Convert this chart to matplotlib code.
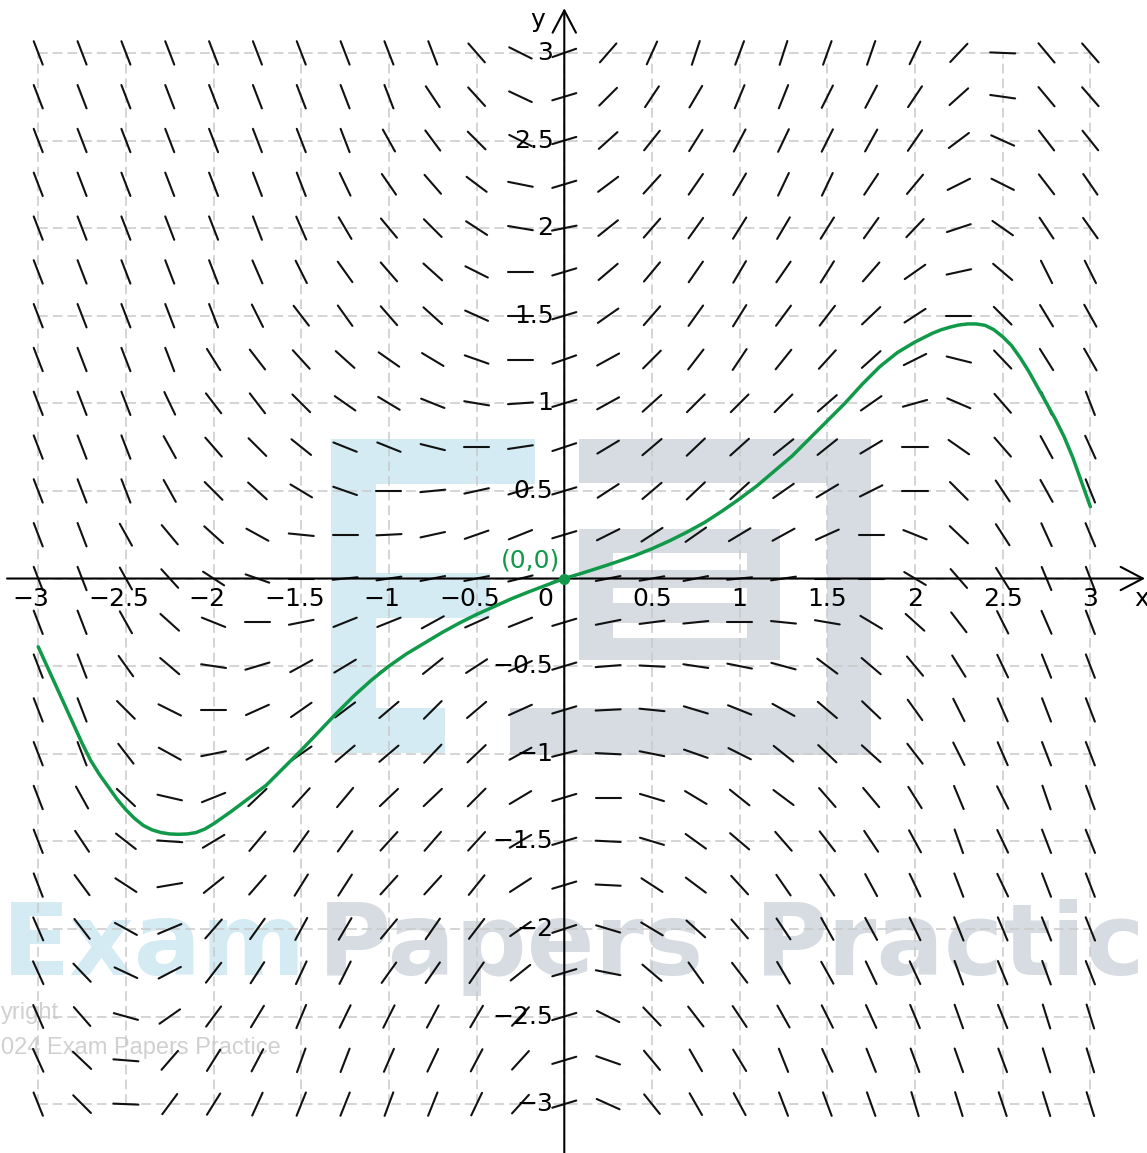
import numpy as np
import matplotlib
matplotlib.use("Agg")
import matplotlib.pyplot as plt
from matplotlib.collections import LineCollection
from matplotlib.patches import Rectangle

# ---------------- data ----------------
grid_x = [-3.0, -2.75, -2.5, -2.25, -2.0, -1.75, -1.5, -1.25, -1.0, -0.75, -0.5, -0.25,
          0.0, 0.25, 0.5, 0.75, 1.0, 1.25, 1.5, 1.75, 2.0, 2.25, 2.5, 2.75, 3.0]
grid_y = [3.0, 2.75, 2.5, 2.25, 2.0, 1.75, 1.5, 1.25, 1.0, 0.75, 0.5, 0.25,
          0.0, -0.25, -0.5, -0.75, -1.0, -1.25, -1.5, -1.75, -2.0, -2.25, -2.5, -2.75, -3.0]

# displayed slope of each short segment, rows from y = 3 (top) to y = -3 (bottom)
slopes = [
    [-2.6, -2.6, -2.6, -2.6, -2.6, -2.6, -2.6, -2.6, -2.6, -2.6, -1.15, -0.5, 0.35, 1.15, 2.2, 3.0, 2.7, 3.1, 2.8, 2.9, 2.1, 1.06, -0.04, -1.2, -1.15],
    [-2.6, -2.6, -2.6, -2.6, -2.6, -2.6, -2.6, -2.6, -2.6, -1.5, -1.1, -0.47, 0.3, 1.0, 1.5, 1.7, 2.4, 2.5, 2.0, 1.9, 1.5, 0.9, -0.14, -1.2, -1.15],
    [-2.6, -2.6, -2.6, -2.6, -2.6, -2.6, -2.6, -2.6, -1.8, -1.35, -1.0, -0.5, 0.3, 0.9, 1.25, 1.6, 1.9, 2.1, 2.0, 1.8, 1.45, 0.75, -0.45, -1.3, -1.25],
    [-2.6, -2.6, -2.6, -2.6, -2.6, -2.6, -2.6, -2.1, -1.45, -1.15, -0.75, -0.2, 0.3, 0.75, 1.1, 1.45, 1.7, 2.1, 2.1, 1.5, 1.2, 0.5, -0.5, -1.3, -1.45],
    [-2.6, -2.6, -2.6, -2.6, -2.6, -2.6, -2.3, -1.7, -1.2, -1.0, -0.65, -0.17, 0.2, 0.8, 1.15, 1.4, 1.6, 1.7, 1.6, 1.4, 1.05, 0.33, -0.7, -1.5, -1.4],
    [-2.6, -2.6, -2.6, -2.6, -2.6, -2.3, -2.0, -1.4, -1.15, -0.9, -0.5, 0.0, 0.3, 0.85, 1.2, 1.45, 1.7, 1.45, 1.6, 1.15, 0.7, 0.22, -0.85, -2.0, -2.0],
    [-2.6, -2.6, -2.6, -2.6, -2.6, -2.0, -1.3, -1.4, -1.15, -0.9, -0.45, 0.0, 0.3, 0.7, 1.15, 1.4, 1.6, 1.35, 1.3, 0.95, 0.65, 0.0, -1.0, -1.65, -1.8],
    [-2.6, -2.6, -2.6, -2.6, -1.6, -1.3, -1.1, -0.9, -0.7, -0.6, -0.35, 0.0, 0.35, 0.55, 1.0, 1.3, 1.5, 1.25, 1.1, 0.9, 0.5, -0.25, -1.05, -1.6, -1.75],
    [-2.6, -2.6, -2.6, -2.1, -1.3, -1.3, -1.0, -0.7, -0.6, -0.4, -0.17, 0.07, 0.3, 0.55, 0.9, 1.0, 1.0, 1.0, 0.87, 0.7, 0.28, -0.43, -1.15, -2.2, -2.6],
    [-2.6, -2.6, -2.6, -1.8, -1.15, -1.0, -0.8, -0.4, -0.4, -0.25, 0.0, 0.15, 0.33, 0.6, 0.85, 0.95, 0.9, 0.8, 0.8, 0.6, 0.0, -0.7, -1.15, -1.85, -2.2],
    [-2.6, -2.6, -2.6, -1.8, -1.0, -0.9, -0.6, -0.35, 0.0, 0.1, 0.22, 0.3, 0.3, 0.65, 0.85, 0.95, 0.9, 0.7, 0.6, 0.5, 0.0, -1.0, -1.5, -1.8, -2.5],
    [-2.6, -2.6, -1.8, -1.2, -0.9, -0.55, -0.1, 0.0, 0.05, 0.22, 0.35, 0.4, 0.3, 0.5, 0.65, 0.7, 0.6, 0.55, 0.45, 0.0, -0.4, -0.95, -1.55, -2.2, -2.4],
    [-2.6, -2.6, -1.8, -1.1, -0.65, -0.35, 0.0, 0.1, 0.15, 0.2, 0.2, 0.25, 0.3, 0.2, 0.18, 0.2, 0.1, 0.15, 0.0, 0.0, -0.6, -1.15, -1.6, -2.4, -2.6],
    [-2.6, -2.6, -1.8, -0.9, -0.4, 0.0, 0.2, 0.4, 0.4, 0.55, 0.45, 0.4, 0.3, 0.2, 0.13, 0.1, 0.0, -0.1, -0.17, -0.6, -0.9, -1.3, -2.0, -2.3, -2.6],
    [-2.6, -2.6, -1.4, -0.85, -0.15, 0.3, 0.55, 0.6, 0.7, 0.8, 0.65, 0.45, 0.3, 0.08, -0.05, -0.15, -0.2, -0.27, -0.75, -0.85, -1.2, -1.6, -2.1, -2.5, -2.6],
    [-2.6, -2.6, -1.0, -0.5, 0.0, 0.45, 0.7, 0.75, 0.85, 1.0, 0.85, 0.45, 0.3, 0.05, -0.1, -0.3, -0.4, -0.55, -0.85, -0.95, -1.4, -2.0, -2.3, -2.6, -2.6],
    [-2.6, -2.6, -1.3, -0.55, 0.2, 0.55, 0.7, 0.85, 0.85, 1.05, 0.95, 0.55, 0.25, -0.05, -0.2, -0.35, -0.5, -0.8, -0.95, -0.9, -1.3, -2.0, -2.3, -2.6, -2.6],
    [-2.6, -1.8, -0.95, -0.23, 0.4, 0.95, 1.1, 1.2, 0.95, 0.95, 1.0, 0.6, 0.3, 0.0, -0.3, -0.6, -0.8, -0.75, -1.15, -1.2, -1.6, -2.4, -2.0, -2.9, -2.7],
    [-2.6, -1.5, -0.78, -0.07, 0.6, 1.2, 1.4, 1.4, 1.1, 1.15, 1.1, 0.6, 0.3, -0.05, -0.3, -0.72, -0.85, -1.15, -1.3, -1.5, -1.85, -2.8, -2.1, -2.6, -2.5],
    [-2.6, -1.35, -0.65, 0.17, 0.8, 1.15, 1.6, 1.55, 1.1, 1.1, 1.25, 0.65, 0.3, -0.05, -0.65, -0.75, -1.1, -1.45, -1.5, -1.85, -2.1, -2.6, -2.1, -2.6, -2.6],
    [-2.3, -1.3, -0.55, 0.42, 1.15, 1.4, 1.85, 1.7, 1.2, 1.45, 1.3, 0.7, 0.33, -0.3, -0.6, -0.9, -1.15, -1.5, -1.8, -1.85, -2.1, -2.5, -2.4, -2.5, -2.5],
    [-2.2, -1.05, -0.47, 0.52, 1.3, 1.55, 2.15, 2.0, 1.4, 1.45, 1.45, 0.8, 0.3, -0.2, -0.85, -1.4, -1.3, -1.7, -1.8, -2.1, -2.15, -2.75, -2.45, -2.75, -2.55],
    [-2.3, -1.15, -0.28, 0.7, 1.35, 1.65, 2.4, 2.05, 2.0, 1.9, 1.7, 1.1, 0.3, -0.5, -1.05, -1.3, -1.5, -1.8, -2.0, -2.2, -2.4, -2.8, -2.5, -3.2, -3.2],
    [-2.2, -0.95, -0.08, 1.15, 1.6, 1.9, 2.8, 2.6, 2.3, 2.1, 1.9, 1.1, 0.3, -0.35, -1.2, -1.75, -1.65, -2.5, -2.2, -2.5, -2.7, -2.8, -2.7, -3.2, -3.2],
    [-2.5, -1.0, -0.04, 1.35, 1.6, 2.2, 2.5, 2.5, 2.7, 2.5, 2.1, 1.1, 0.3, -0.45, -1.25, -1.75, -1.85, -2.6, -2.7, -2.8, -3.3, -3.2, -3.0, -3.2, -3.2],
]

# solution curve through (0,0)
curve_x = [-3.0, -2.95, -2.9, -2.85, -2.8, -2.75, -2.7, -2.65, -2.6, -2.55, -2.5, -2.45, -2.4,
           -2.35, -2.3, -2.25, -2.2, -2.15, -2.1, -2.05, -2.0, -1.95, -1.9, -1.8, -1.7,
           -1.6, -1.5, -1.4, -1.3, -1.2, -1.1, -1.0, -0.9, -0.8, -0.7, -0.6, -0.5, -0.4,
           -0.3, -0.2, -0.1, 0.0, 0.1, 0.2, 0.3, 0.4, 0.5, 0.6, 0.7, 0.8, 0.9, 1.0, 1.1,
           1.2, 1.3, 1.4, 1.5, 1.6, 1.7, 1.8, 1.9, 2.0, 2.05, 2.1, 2.15, 2.2, 2.25, 2.3,
           2.35, 2.4, 2.45, 2.5, 2.55, 2.6, 2.65, 2.7, 2.75, 2.8, 2.85, 2.9, 2.95, 3.0]
curve_y = [-0.39, -0.50, -0.61, -0.72, -0.83, -0.94, -1.04, -1.12, -1.19, -1.26, -1.32, -1.37,
           -1.41, -1.435, -1.45, -1.458, -1.46, -1.458, -1.45, -1.43, -1.40, -1.365, -1.33,
           -1.255, -1.18, -1.08, -0.98, -0.875, -0.77, -0.67, -0.58, -0.50, -0.43, -0.37,
           -0.31, -0.255, -0.205, -0.16, -0.115, -0.075, -0.037, 0.0, 0.03, 0.062, 0.095,
           0.13, 0.17, 0.215, 0.265, 0.32, 0.385, 0.455, 0.53, 0.615, 0.70, 0.80, 0.90,
           1.00, 1.11, 1.21, 1.29, 1.35, 1.375, 1.40, 1.42, 1.435, 1.447, 1.453, 1.453,
           1.445, 1.42, 1.38, 1.33, 1.26, 1.18, 1.09, 1.00, 0.91, 0.81, 0.69, 0.55, 0.41]

x_ticks = [-3, -2.5, -2, -1.5, -1, -0.5, 0.5, 1, 1.5, 2, 2.5, 3]
x_tick_labels = ["\u22123", "\u22122.5", "\u22122", "\u22121.5", "\u22121", "\u22120.5",
                 "0.5", "1", "1.5", "2", "2.5", "3"]
y_ticks = [3, 2.5, 2, 1.5, 1, 0.5, -0.5, -1, -1.5, -2, -2.5, -3]
y_tick_labels = ["3", "2.5", "2", "1.5", "1", "0.5", "\u22120.5", "\u22121", "\u22121.5",
                 "\u22122", "\u22122.5", "\u22123"]
grid_lines = [-3, -2.5, -2, -1.5, -1, -0.5, 0, 0.5, 1, 1.5, 2, 2.5, 3]

# ---------------- figure ----------------
plt.rcParams["lines.scale_dashes"] = False
W, H = 1147, 1153
fig = plt.figure(figsize=(W / 100, H / 100), dpi=100)
ax = fig.add_axes([0, 0, 1, 1])
XL = (-3.218, 3.323)
YL = (-3.279, 3.302)
ax.set_xlim(*XL)
ax.set_ylim(*YL)
ax.axis("off")

def px(xp, yp):
    """figure pixel -> data coords"""
    return (XL[0] + xp / W * (XL[1] - XL[0]), YL[1] - yp / H * (YL[1] - YL[0]))

# ---------------- watermark (behind everything) ----------------
blue_wm = "#d4ebf4"
grey_wm = "#d6dce1"
logo = [
    (331, 439, 376, 753, blue_wm), (331, 439, 535, 484, blue_wm),
    (331, 573, 490, 618, blue_wm), (331, 708, 445, 753, blue_wm),
    (579, 439, 871, 483, grey_wm), (827, 439, 871, 755, grey_wm),
    (579, 529, 780, 660, grey_wm), (510, 708, 871, 755, grey_wm),
    (613, 553, 747, 570, "white"), (613, 588, 747, 603, "white"), (613, 623, 747, 638, "white"),
]
for x0, y0, x1, y1, c in logo:
    a = px(x0, y1)
    b = px(x1, y0)
    ax.add_patch(Rectangle(a, b[0] - a[0], b[1] - a[1], facecolor=c, edgecolor="none", zorder=0))

wm_font = dict(family="DejaVu Sans", weight="bold", fontsize=72, zorder=0.5)
ax.text(*px(2, 975), "Exam", color=blue_wm, ha="left", va="baseline", **wm_font)
ax.text(*px(318, 975), "Papers", color=grey_wm, ha="left", va="baseline", **wm_font)
ax.text(*px(1146, 975), "Practic", color=grey_wm, ha="right", va="baseline", **wm_font)
ax.text(*px(1, 1019), "yright", color="#d0d0d0", ha="left", va="baseline",
        family="Liberation Sans", fontsize=17, zorder=0.5)
ax.text(*px(1, 1054), "024 Exam Papers Practice", color="#d0d0d0", ha="left",
        va="baseline", family="Liberation Sans", fontsize=17, zorder=0.5)

# ---------------- dashed grid ----------------
for g in grid_lines:
    ax.plot([g, g], [grid_lines[0], grid_lines[-1]], color="#c9c9c9", lw=1.1,
            dashes=(7, 3.6), zorder=1)
    ax.plot([grid_lines[0], grid_lines[-1]], [g, g], color="#c9c9c9", lw=1.1,
            dashes=(7, 3.6), zorder=1)

# ---------------- slope field ----------------
half = 0.0715
segs = []
for j, yv in enumerate(grid_y):
    for i, xv in enumerate(grid_x):
        th = np.arctan(slopes[j][i])
        dx, dy = half * np.cos(th), half * np.sin(th)
        segs.append([(xv - dx, yv - dy), (xv + dx, yv + dy)])
ax.add_collection(LineCollection(segs, colors="#111111", linewidths=1.5,
                                 capstyle="round", zorder=3))

# ---------------- axes with arrows ----------------
arrow_kw = dict(arrowstyle="->,head_length=0.8,head_width=0.42", lw=1.5, color="black",
                mutation_scale=20, shrinkA=0, shrinkB=0)
ax.annotate("", xy=(3.312, 0), xytext=(-3.178, 0), arrowprops=arrow_kw, zorder=4)
ax.annotate("", xy=(0, 3.255), xytext=(0, YL[0]), arrowprops=arrow_kw, zorder=4)

lab_font = dict(family="DejaVu Sans", fontsize=18, color="black", zorder=5)
for t, s in zip(x_ticks, x_tick_labels):
    off = -0.04 if t < 0 else 0.0
    ax.text(t + off, -0.115, s, ha="center", va="center", **lab_font)
ax.text(-0.11, -0.115, "0", ha="center", va="center", **lab_font)
for t, s in zip(y_ticks, y_tick_labels):
    ax.text(-0.062, t, s, ha="right", va="center", **lab_font)
ax.text(3.29, -0.118, "x", ha="center", va="center", **lab_font)
ax.text(-0.15, 3.19, "y", ha="center", va="center", **lab_font)

# ---------------- solution curve ----------------
green = "#11994a"
ax.plot(curve_x, curve_y, color=green, lw=2.5, zorder=6, solid_capstyle="round",
        solid_joinstyle="round")
ax.plot([0], [0], "o", color=green, ms=7, zorder=7)
ax.text(-0.19, 0.105, "(0,0)", color=green, ha="center", va="center",
        family="DejaVu Sans", fontsize=18, zorder=7)

fig.savefig("out.png", dpi=100)
